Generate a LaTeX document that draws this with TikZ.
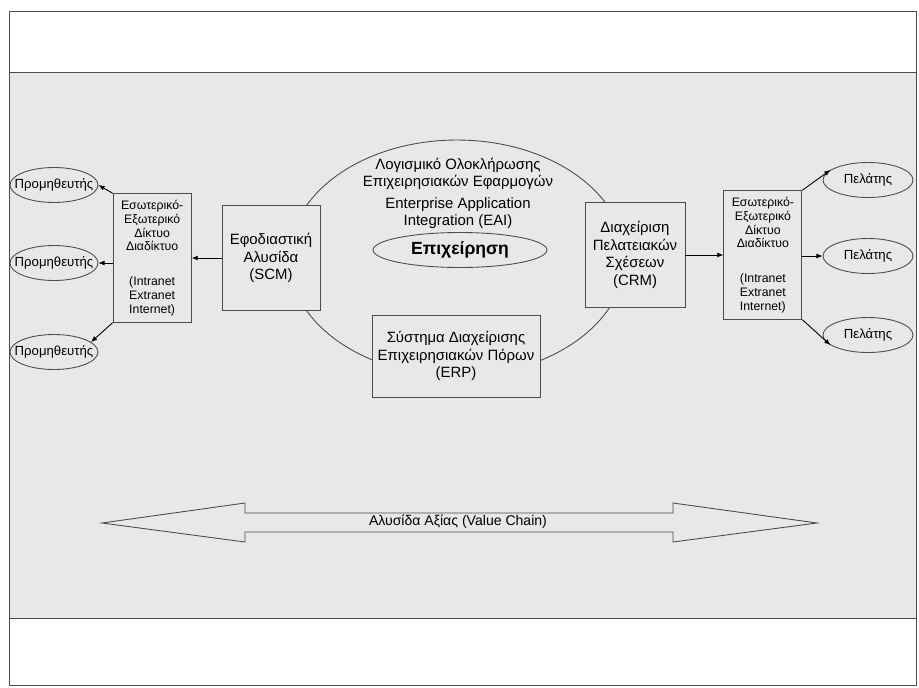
\documentclass[tikz,border=0pt]{standalone}
\usepackage{fontspec}
\setmainfont{Liberation Sans}
\usetikzlibrary{shapes,arrows.meta,positioning}
\definecolor{slide-grey}{rgb}{0.91, 0.91, 0.91}
\definecolor{line-grey}{rgb}{0.3, 0.3, 0.3}

\begin{document}
\begin{tikzpicture}[x=0.02cm, y=-0.02cm, >={Latex[length=3.5pt,width=2.8pt]}, line width=0.5pt,
  every label/.style={font=\fontsize{7.5}{9}\selectfont}]

\tikzstyle{box}=[rectangle, draw=line-grey, fill=slide-grey, align=center, inner sep=0pt, font=\fontsize{8.5}{10}\selectfont]
\tikzstyle{net box}=[box, minimum width=1.56cm, minimum height=2.57cm, font=\fontsize{7}{7.8}\selectfont]
\tikzstyle{partner}=[ellipse, draw=line-grey, fill=slide-grey, minimum height=0.7cm, inner sep=0pt]
\tikzstyle{annot}=[align=center, font=\fontsize{8.5}{9.5}\selectfont]

% frame of the slide
\useasboundingbox (0,0) rectangle (919,687);
\fill[white] (0,0) rectangle (919,687);
\fill[slide-grey] (9,72) rectangle (916,618);
\draw[line-grey] (9,11) rectangle (916,685);
\draw[line-grey] (9,72) -- (916,72);
\draw[line-grey] (9,618) -- (916,618);

% the enterprise
\node[ellipse, draw=line-grey, minimum width=6.72cm, minimum height=4.72cm] (eai) at (457,258) {};
\node[annot] (eaiGr) at (458,174) {Λογισμικό Ολοκλήρωσης\\Επιχειρησιακών Εφαρμογών};
\node[annot] (eaiEn) at (458,213) {Enterprise Application\\Integration (EAI)};
\node[partner, minimum width=3.48cm, font=\bfseries\fontsize{10}{12}\selectfont] (firm) at (460,250) {Επιχείρηση};

\node[box, minimum width=1.96cm, minimum height=2.1cm] (scm) at (271,258) {Εφοδιαστική\\Αλυσίδα\\(SCM)};
\node[box, minimum width=3.36cm, minimum height=1.64cm] (erp) at (456,356) {Σύστημα Διαχείρισης\\Επιχειρησιακών Πόρων\\(ERP)};
\node[box, minimum width=2cm, minimum height=2.1cm] (crm) at (635,255) {Διαχείριση\\Πελατειακών\\Σχέσεων\\(CRM)};

% networks
\node[net box, left=0.6cm of scm] (lnet) {Εσωτερικό-\\Εξωτερικό\\Δίκτυο\\Διαδίκτυο\\[12pt](Intranet\\Extranet\\Internet)};
\node[net box, right=0.76cm of crm] (rnet) {Εσωτερικό-\\Εξωτερικό\\Δίκτυο\\Διαδίκτυο\\[12pt](Intranet\\Extranet\\Internet)};

% suppliers and clients
\node[partner, minimum width=1.76cm, label=center:Προμηθευτής] (sup1) at (54,185) {};
\node[partner, minimum width=1.76cm, label=center:Προμηθευτής] (sup2) at (54,263) {};
\node[partner, minimum width=1.76cm, label=center:Προμηθευτής] (sup3) at (54,352) {};

\node[partner, minimum width=1.8cm, label=center:Πελάτης] (cli1) at (868,180) {};
\node[partner, minimum width=1.8cm, label=center:Πελάτης] (cli2) at (868,256) {};
\node[partner, minimum width=1.8cm, label=center:Πελάτης] (cli3) at (868,335) {};

\draw[->] (scm) -- (lnet);
\draw[->] (lnet.north west) -- (sup1.east);
\draw[->] (lnet.west |- sup2.east) -- (sup2.east);
\draw[->] (lnet.south west) -- (sup3.15);

\draw[->] (crm) -- (rnet);
\draw[->] (rnet.north east) -- (cli1.165);
\draw[->] (rnet.east |- cli2.west) -- (cli2.west);
\draw[->] (rnet.south east) -- (cli3.195);

% value chain
\draw[line-grey, fill=slide-grey] (102,523) -- (245,503) -- (245,513) -- (673,513) -- (673,503)
  -- (817,523) -- (673,542) -- (673,532) -- (245,532) -- (245,542) -- cycle;
\node[font=\fontsize{8}{9}\selectfont] (vchain) at (458,522) {Αλυσίδα Αξίας (Value Chain)};

\end{tikzpicture}
\end{document}
